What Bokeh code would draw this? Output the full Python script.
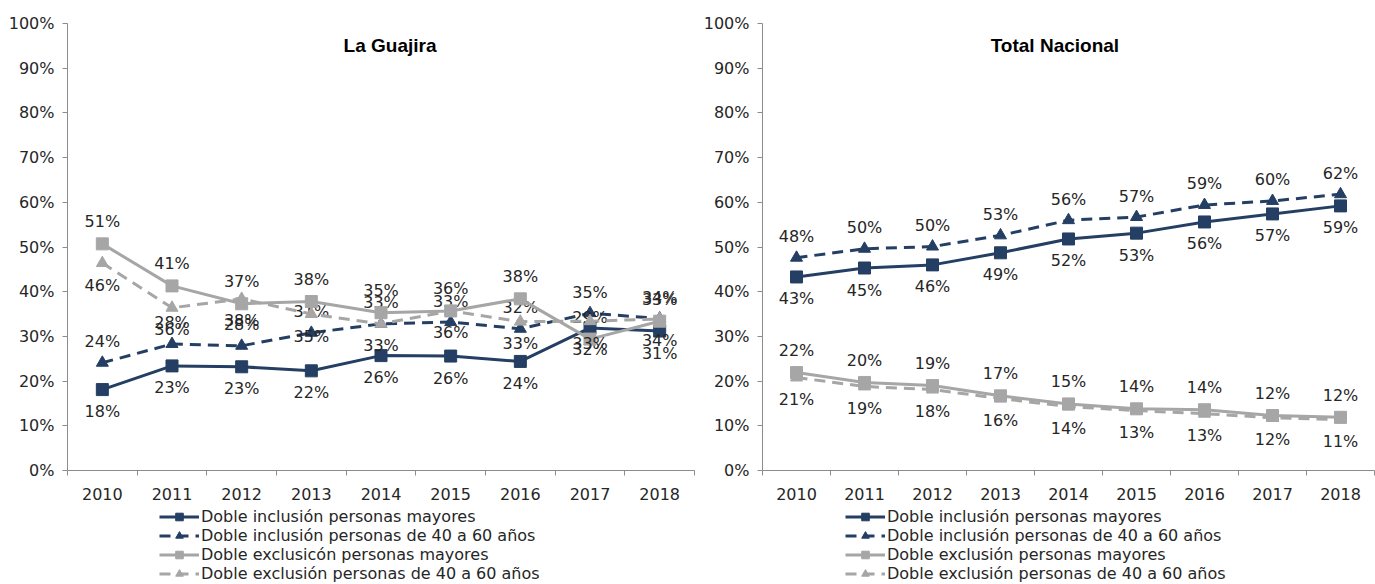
from bokeh.plotting import figure
from bokeh.layouts import row, column
from bokeh.models import (Range1d, FixedTicker, NumeralTickFormatter, Label,
                          Legend, LegendItem, ColumnDataSource)
from bokeh.embed import file_html
from bokeh.resources import INLINE
from bokeh.core.properties import value

# ---------------- data ----------------
years = ["2010", "2011", "2012", "2013", "2014", "2015", "2016", "2017", "2018"]

guajira_inc_mayores = [0.181, 0.234, 0.232, 0.223, 0.257, 0.256, 0.244, 0.319, 0.312]
guajira_inc_40_60 = [0.241, 0.283, 0.279, 0.308, 0.328, 0.332, 0.317, 0.352, 0.340]
guajira_exc_mayores = [0.507, 0.413, 0.373, 0.378, 0.353, 0.357, 0.384, 0.294, 0.334]
guajira_exc_40_60 = [0.464, 0.364, 0.384, 0.350, 0.328, 0.357, 0.333, 0.334, 0.339]

nacional_inc_mayores = [0.433, 0.453, 0.460, 0.487, 0.518, 0.531, 0.556, 0.574, 0.592]
nacional_inc_40_60 = [0.476, 0.496, 0.501, 0.526, 0.560, 0.567, 0.594, 0.603, 0.618]
nacional_exc_mayores = [0.219, 0.197, 0.190, 0.167, 0.149, 0.138, 0.136, 0.123, 0.119]
nacional_exc_40_60 = [0.208, 0.188, 0.181, 0.161, 0.143, 0.134, 0.127, 0.118, 0.114]

labels_guajira = ["Doble inclusión personas mayores",
                  "Doble inclusión personas de 40 a 60 años",
                  "Doble exclusicón personas mayores",
                  "Doble exclusión personas de 40 a 60 años"]
labels_nacional = ["Doble inclusión personas mayores",
                   "Doble inclusión personas de 40 a 60 años",
                   "Doble exclusión personas mayores",
                   "Doble exclusión personas de 40 a 60 años"]

# ---------------- style ----------------
NAVY = "#243F63"
GRAY = "#A6A6A6"
AXIS = "#8C8C8C"
TXT = "#262626"
FONT = "DejaVu Sans"
FS = "16px"

# (color, dash, marker, label offset px (positive = down))
styles = [
    (NAVY, "solid", "square", 22),
    (NAVY, "11 7", "triangle", -21),
    (GRAY, "solid", "square", -22),
    (GRAY, "11 7", "triangle", 22),
]


def make_panel(title, series, labels, width, border_left, border_right,
               title_x, legend_x):
    xs = list(range(len(years)))
    p = figure(width=width, height=505, output_backend="svg",
               toolbar_location=None,
               x_range=Range1d(-0.5, len(years) - 0.5),
               y_range=Range1d(0, 1),
               min_border_left=border_left, min_border_right=border_right,
               min_border_top=23, min_border_bottom=35)
    p.outline_line_color = None
    p.xgrid.visible = False
    p.ygrid.visible = False
    p.background_fill_color = "white"
    p.border_fill_color = "white"

    # y axis
    yax = p.yaxis[0]
    yax.ticker = FixedTicker(ticks=[i / 10 for i in range(11)], minor_ticks=[])
    yax.formatter = NumeralTickFormatter(format="0%")
    yax.axis_line_color = AXIS
    yax.major_tick_line_color = AXIS
    yax.major_tick_out = 5
    yax.major_tick_in = 0
    yax.minor_tick_line_color = None
    yax.major_label_standoff = 8
    yax.major_label_text_font = FONT
    yax.major_label_text_font_size = FS
    yax.major_label_text_color = TXT

    # x axis: labels at category centres, ticks at boundaries
    xax = p.xaxis[0]
    xax.ticker = FixedTicker(ticks=xs,
                             minor_ticks=[i - 0.5 for i in range(len(years) + 1)])
    xax.major_label_overrides = {i: y for i, y in enumerate(years)}
    xax.axis_line_color = AXIS
    xax.major_tick_line_color = None
    xax.major_tick_out = 0
    xax.major_tick_in = 0
    xax.minor_tick_line_color = AXIS
    xax.minor_tick_out = 5
    xax.minor_tick_in = 0
    xax.major_label_standoff = 12
    xax.major_label_text_font = FONT
    xax.major_label_text_font_size = FS
    xax.major_label_text_color = TXT

    for vals, (col, dash, marker, off) in zip(series, styles):
        src = ColumnDataSource(dict(x=xs, y=vals,
                                    t=[f"{round(v * 100)}%" for v in vals]))
        p.line("x", "y", source=src, line_color=col, line_width=3,
               line_dash=dash)
        p.scatter("x", "y", source=src, marker=marker, size=12,
                  fill_color=col, line_color=col)
        p.text("x", "y", text="t", source=src, text_align="center",
               text_baseline="middle", y_offset=off,
               text_font=value(FONT), text_font_size=FS, text_color=TXT)

    p.add_layout(Label(x=title_x, y=0.95, text=title, text_align="center",
                       text_baseline="middle", text_font="Liberation Sans",
                       text_font_style="bold", text_font_size="19px",
                       text_color="black"))

    # legend figure underneath (same series, drawn out of its visible range)
    lf = figure(width=width, height=79, output_backend="svg",
                toolbar_location=None, x_axis_type=None, y_axis_type=None,
                x_range=Range1d(-0.5, len(years) - 0.5),
                y_range=Range1d(5, 6),
                min_border_left=0, min_border_right=0,
                min_border_top=0, min_border_bottom=0)
    lf.outline_line_color = None
    lf.xgrid.visible = False
    lf.ygrid.visible = False
    items = []
    for vals, lbl, (col, dash, marker, off) in zip(series, labels, styles):
        lr = lf.line(xs, vals, line_color=col, line_width=3, line_dash=dash)
        sr = lf.scatter(xs, vals, marker=marker, size=10,
                        fill_color=col, line_color=col)
        items.append(LegendItem(label=lbl, renderers=[lr, sr]))
    leg = Legend(items=items, location=(legend_x, 1), orientation="vertical",
                 spacing=0, padding=0, margin=0, label_height=19,
                 glyph_height=19, glyph_width=40, label_standoff=2,
                 border_line_color=None, background_fill_alpha=0,
                 label_text_font=FONT, label_text_font_size=FS,
                 label_text_color=TXT)
    lf.add_layout(leg, "center")
    return column(p, lf, spacing=0)


c1 = make_panel("La Guajira",
                [guajira_inc_mayores, guajira_inc_40_60,
                 guajira_exc_mayores, guajira_exc_40_60],
                labels_guajira, 700, 67, 6, 4.13, 92)
c2 = make_panel("Total Nacional",
                [nacional_inc_mayores, nacional_inc_40_60,
                 nacional_exc_mayores, nacional_exc_40_60],
                labels_nacional, 675, 58, 1, 3.8, 83)

layout = row(c1, c2, spacing=0)
open("out.html", "w").write(file_html(layout, INLINE))
